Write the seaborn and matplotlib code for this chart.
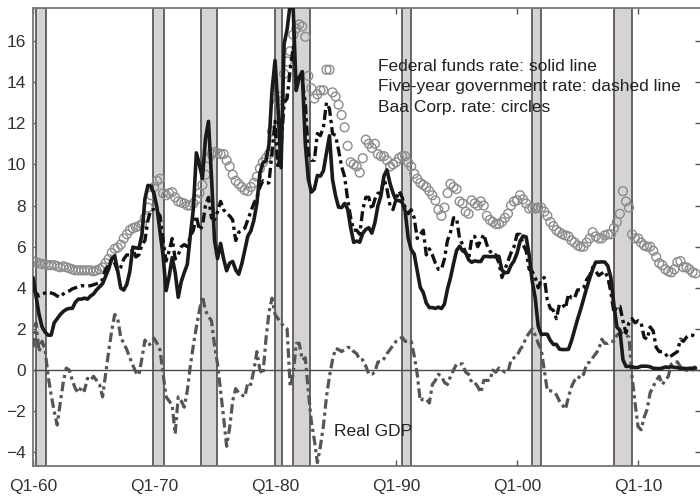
import numpy as np
import pandas as pd
import matplotlib
matplotlib.use("Agg")
import matplotlib.pyplot as plt
import seaborn as sns

# ---------------- data (quarterly, 1960Q1 - 2014Q4) ----------------
fed_funds = [
    4.5, 3.6, 2.7, 2.1,   1.85, 1.7, 1.7, 2.3,   2.5, 2.7, 2.85, 2.95,
    3.0, 3.0, 3.3, 3.45,  3.45, 3.5, 3.45, 3.6,  3.7, 3.9, 4.05, 4.2,
    4.56, 4.91, 5.41, 5.56, 4.82, 3.99, 3.89, 4.17, 4.79, 5.98, 5.94, 5.92,
    6.57, 8.33, 8.98, 8.94, 8.57, 7.88, 6.70, 5.57, 3.86, 4.56, 5.47, 4.75,
    3.54, 4.30, 4.74, 5.14, 6.54, 7.82, 10.56, 10.00, 9.32, 11.25, 12.09, 9.35,
    6.30, 5.42, 6.16, 5.41, 4.83, 5.20, 5.28, 4.87, 4.66, 5.16, 5.82, 6.51,
    6.76, 7.28, 8.10, 9.58, 10.07, 10.18, 10.95, 13.58, 15.05, 12.69, 9.84, 15.85,
    16.57, 17.78, 17.58, 13.59, 14.23, 14.51, 11.01, 9.29, 8.65, 8.80, 9.46, 9.43,
    9.69, 10.56, 11.39, 9.27, 8.48, 7.92, 7.90, 8.10, 7.83, 6.92, 6.21, 6.27,
    6.22, 6.65, 6.84, 6.92, 6.66, 7.16, 7.98, 8.47, 9.44, 9.73, 9.08, 8.61,
    8.25, 8.24, 8.16, 7.74, 6.43, 5.86, 5.64, 4.82, 4.02, 3.77, 3.26, 3.04,
    3.04, 3.00, 3.06, 2.99, 3.21, 3.94, 4.49, 5.17, 5.81, 6.02, 5.80, 5.72,
    5.36, 5.24, 5.31, 5.28, 5.28, 5.52, 5.53, 5.51, 5.52, 5.50, 5.53, 4.86,
    4.73, 4.75, 5.09, 5.31, 5.68, 6.27, 6.52, 6.47, 5.59, 4.33, 3.50, 2.13,
    1.73, 1.75, 1.74, 1.44, 1.25, 1.25, 1.02, 1.00, 1.00, 1.01, 1.43, 1.95,
    2.47, 2.94, 3.46, 3.98, 4.46, 4.91, 5.25, 5.25, 5.26, 5.25, 5.07, 4.50,
    3.18, 2.09, 1.94, 0.51, 0.18, 0.18, 0.16, 0.12, 0.13, 0.19, 0.19, 0.19,
    0.16, 0.09, 0.08, 0.07, 0.10, 0.15, 0.14, 0.16, 0.14, 0.12, 0.08, 0.09,
    0.07, 0.09, 0.09, 0.10,
]

five_year = [
    3.95, 3.75, 3.6, 3.7,  3.75, 3.8, 3.75, 3.7,  3.6, 3.55, 3.7, 3.8,
    3.85, 3.95, 4.0, 4.05, 4.1, 4.1, 4.1, 4.1,    4.15, 4.2, 4.25, 4.4,
    4.90, 5.10, 5.40, 5.20, 4.80, 5.00, 5.40, 5.60, 5.60, 5.90, 5.50, 5.60,
    6.10, 6.30, 7.30, 7.80, 7.80, 7.70, 7.50, 6.30, 5.30, 5.80, 6.40, 5.40,
    5.60, 6.00, 6.10, 6.00, 6.50, 6.80, 7.50, 6.80, 7.00, 8.00, 8.40, 7.40,
    7.30, 7.70, 8.20, 7.80, 7.60, 7.50, 7.30, 6.30, 6.70, 6.80, 6.90, 7.30,
    7.70, 8.10, 8.40, 8.90, 9.20, 9.10, 9.10, 10.60, 12.10, 9.80, 10.80, 13.00,
    13.20, 14.60, 15.70, 14.00, 14.30, 14.00, 13.00, 10.50, 10.20, 10.20, 11.50, 11.40,
    11.80, 13.00, 12.70, 11.50, 11.40, 10.70, 9.90, 9.40, 8.30, 7.40, 6.80, 6.80,
    6.60, 7.80, 8.40, 8.40, 7.80, 8.30, 8.60, 8.60, 9.30, 8.80, 8.00, 7.80,
    8.30, 8.70, 8.40, 7.90, 7.60, 7.80, 7.40, 6.40, 6.60, 6.80, 5.60, 5.90,
    5.60, 5.20, 4.90, 4.90, 5.40, 6.30, 6.70, 7.40, 7.40, 6.40, 6.10, 5.70,
    5.40, 6.40, 6.50, 6.00, 6.30, 6.60, 6.10, 5.80, 5.60, 5.60, 5.20, 4.50,
    4.90, 5.30, 5.70, 6.00, 6.60, 6.60, 6.10, 5.80, 4.90, 4.80, 4.50, 4.00,
    4.40, 4.50, 3.40, 3.00, 2.90, 2.50, 3.20, 3.20, 3.00, 3.70, 3.50, 3.50,
    3.90, 3.90, 4.00, 4.40, 4.60, 5.00, 4.80, 4.60, 4.70, 4.80, 4.50, 3.80,
    2.80, 3.10, 3.10, 2.40, 1.80, 2.30, 2.50, 2.30, 2.40, 2.30, 1.60, 1.50,
    2.10, 1.90, 1.10, 0.90, 0.90, 0.80, 0.60, 0.70, 0.80, 0.90, 1.50, 1.40,
    1.60, 1.70, 1.70, 1.60,
]

baa_corp = [
    5.3, 5.25, 5.2, 5.15,  5.15, 5.1, 5.1, 5.1,  5.05, 5.0, 5.05, 5.0,
    4.95, 4.9, 4.85, 4.85, 4.85, 4.85, 4.85, 4.85, 4.8, 4.85, 4.9, 5.0,
    5.2, 5.4, 5.7, 5.9,    5.95, 6.1, 6.4, 6.6,   6.8, 6.9, 6.95, 7.0,
    7.1, 7.4, 7.9, 8.5,    8.9, 9.2, 9.3, 8.6,    8.5, 8.6, 8.65, 8.4,
    8.2, 8.15, 8.1, 8.0,   8.0, 8.1, 8.3, 8.6,    9.0, 9.5, 10.3, 10.5,
    10.6, 10.55, 10.5, 10.5, 10.2, 9.9, 9.5, 9.2, 9.05, 8.9, 8.75, 8.7,
    8.9, 9.1, 9.4, 9.8,    10.1, 10.3, 10.5, 11.6, 13.2, 13.1, 13.3, 14.4,
    15.0, 15.5, 16.3, 16.6, 16.8, 16.7, 16.2, 14.3, 13.7, 13.2, 13.4, 13.6,
    13.6, 14.6, 14.6, 13.5, 13.3, 12.9, 12.4, 11.8, 10.9, 10.1, 10.0, 9.9,
    9.6, 10.3, 11.2, 11.0, 10.8, 11.0, 10.5, 10.4, 10.4, 10.2, 9.9, 10.0,
    10.1, 10.3, 10.4, 10.4, 10.1, 9.9, 9.55, 9.3, 9.1, 9.0, 8.9, 8.7,
    8.5, 8.25, 7.8, 7.5,   7.9, 8.6, 9.05, 8.9,   8.8, 8.2, 8.1, 7.7,
    7.6, 8.25, 8.1, 8.0,   8.2, 8.0, 7.5, 7.3,    7.2, 7.1, 7.1, 7.2,
    7.4, 7.6, 8.0, 8.2,    8.25, 8.5, 8.3, 8.1,   7.85, 7.9, 7.85, 7.9,
    7.9, 7.7, 7.5, 7.2,    7.0, 6.8, 6.7, 6.6,    6.55, 6.5, 6.3, 6.2,
    6.06, 6.0, 6.0, 6.2,   6.4, 6.7, 6.5, 6.4,    6.4, 6.55, 6.6, 6.6,
    6.9, 7.2, 7.6, 8.7,    8.2, 7.9, 6.6, 6.4,    6.4, 6.2, 6.06, 6.0,
    6.0, 5.8, 5.5, 5.2,    5.1, 4.9, 4.8, 4.75,   4.9, 5.25, 5.3, 5.0,
    5.0, 4.9, 4.75, 4.7,
]

real_gdp = [
    1.1, 2.3, 0.9, 1.4,    1.0, -0.3, -1.2, -2.0,  -2.67, -1.6, -0.6, 0.1,
    0.0, -0.5, -0.9, -1.1, -0.8, -1.0, -0.4, -0.5,  -0.3, -0.5, -0.7, -1.3,
    -0.2, 0.9, 1.9, 2.7,   2.5, 1.6, 1.3, 1.0,     0.6, 0.24, -0.1, -0.24,
    0.57, 1.46, 1.2, 1.3,  1.55, 1.3, 0.97, -0.16, -1.3, -1.5, -1.7, -3.1,
    -1.3, -1.5, -1.8, -1.0, 0.2, 1.2, 2.1, 2.9,     3.6, 2.9, 2.6, 2.4,
    1.2, 0.3, -1.0, -2.3,  -3.7, -2.8, -1.5, -0.9,  -1.1, -1.2, -1.3, -0.6,
    -0.7, 0.0, 0.9, 0.0,   -0.2, 1.5, 2.8, 3.5,    2.7, 2.5, 2.3, 2.1,
    2.0, -0.8, -0.2, 1.3,  1.3, 0.5, 0.6, -1.0,    -2.5, -3.4, -4.5, -3.7,
    -2.7, -1.3, -0.3, 0.5, 1.05, 1.0, 0.9, 1.0,    1.1, 1.1, 0.9, 0.8,
    0.5, 0.5, 0.2, -0.2,   -0.2, -0.1, 0.4, 0.4,   0.55, 0.8, 1.0, 1.2,
    1.4, 1.5, 1.6, 1.4,    1.4, 1.4, 0.7, -0.2,    -1.5, -1.4, -1.4, -1.6,
    -0.7, -0.5, -0.2, -0.3, -0.6, -0.7, -0.3, 0.0,  0.3, 0.3, 0.3, -0.1,
    -0.2, -0.6, -0.6, -0.8, -1.1, -0.5, -0.5, -0.5, 0.0, -0.1, 0.1, 0.0,
    -0.1, -0.1, 0.5, 0.6,  0.7, 1.0, 1.2, 1.6,     1.8, 2.0, 1.7, 1.3,
    1.0, 0.0, -1.0, -1.0,  -1.05, -1.2, -1.5, -1.7, -1.9, -1.3, -0.8, -0.5,
    -0.3, -0.4, -0.2, 0.3, 0.4, 0.6, 0.8, 1.0,     1.5, 1.3, 1.3, 1.4,
    1.4, 1.7, 1.8, 1.8,    1.7, 1.6, -0.3, -1.6,   -2.75, -2.9, -2.3, -1.9,
    -1.1, -0.8, -0.5, -0.3, -0.7, -0.5, -0.3, 0.3,  0.4, 0.4, 0.16, 0.0,
    0.0, 0.0, 0.0, 0.2,
]

recession_start = [1960.25, 1969.9, 1973.85, 1980.0, 1981.5, 1990.5, 2001.2, 2008.0]
recession_end = [1961.05, 1970.8, 1975.2, 1980.6, 1982.9, 1991.25, 2002.0, 2009.5]

tick_years = [1960, 1970, 1980, 1990, 2000, 2010]
tick_labels = ["Q1-60", "Q1-70", "Q1-80", "Q1-90", "Q1-00", "Q1-10"]
y_ticks = [-4, -2, 0, 2, 4, 6, 8, 10, 12, 14, 16]

legend_lines = ["Federal funds rate: solid line",
                "Five-year government rate: dashed line",
                "Baa Corp. rate: circles"]

# ---------------- build frame ----------------
n = len(fed_funds)
t = 1960 + np.arange(n) / 4.0
df = pd.DataFrame({"t": t, "ff": fed_funds, "five": five_year,
                   "baa": baa_corp, "gdp": real_gdp})

sns.set_style("white")
plt.rcParams["font.family"] = ["Liberation Sans", "DejaVu Sans"]

fig = plt.figure(figsize=(7.0, 4.96), dpi=100)
ax = fig.add_axes([33 / 700, 30 / 496, 668 / 700, 458 / 496])

for s, e in zip(recession_start, recession_end):
    ax.axvspan(s, e, facecolor="#d6d2d6", edgecolor="#5a5a5a", lw=1.3, zorder=1)

ax.axhline(0, color="#4a4a4a", lw=1.0, zorder=2)

sns.scatterplot(data=df, x="t", y="baa", ax=ax, marker="o", s=40,
                facecolor="none", edgecolor="#8c8c8c", linewidth=1.0, zorder=3,
                legend=False)
sns.lineplot(data=df, x="t", y="gdp", ax=ax, color="#555555", lw=2.3,
             dashes=False, zorder=4, legend=False).lines[-1].set_dashes((3, 1.2, 1, 1.2))
sns.lineplot(data=df, x="t", y="five", ax=ax, color="#111111", lw=2.4,
             zorder=5, legend=False).lines[-1].set_dashes((3, 1.2, 1, 1.2))
sns.lineplot(data=df, x="t", y="ff", ax=ax, color="#1a1a1a", lw=2.6,
             zorder=6, legend=False)

ax.set_xlim(1960, 2015.2)
ax.set_ylim(-4.66, 17.6)
ax.set_xticks(tick_years)
ax.set_xticklabels(tick_labels)
ax.set_yticks(y_ticks)
ax.set_xlabel("")
ax.set_ylabel("")
ax.tick_params(axis="both", direction="in", length=4, width=1, color="#555555",
               labelsize=12.5, labelcolor="#333333",
               top=True, right=True, left=True, bottom=True)
ax.tick_params(axis="x", pad=9)
ax.tick_params(axis="y", pad=5)
for sp in ax.spines.values():
    sp.set_color("#777777")
    sp.set_linewidth(1.3)
    sp.set_visible(True)

for i, txt in enumerate(legend_lines):
    ax.text(1988.5, 14.76 - i * 0.99, txt, fontsize=12.5, color="#222222",
            va="center", ha="left", zorder=7)
ax.text(1984.9, -3.0, "Real GDP", fontsize=12.5, color="#222222",
        va="center", ha="left", zorder=7)

fig.savefig("out.png", dpi=100)
